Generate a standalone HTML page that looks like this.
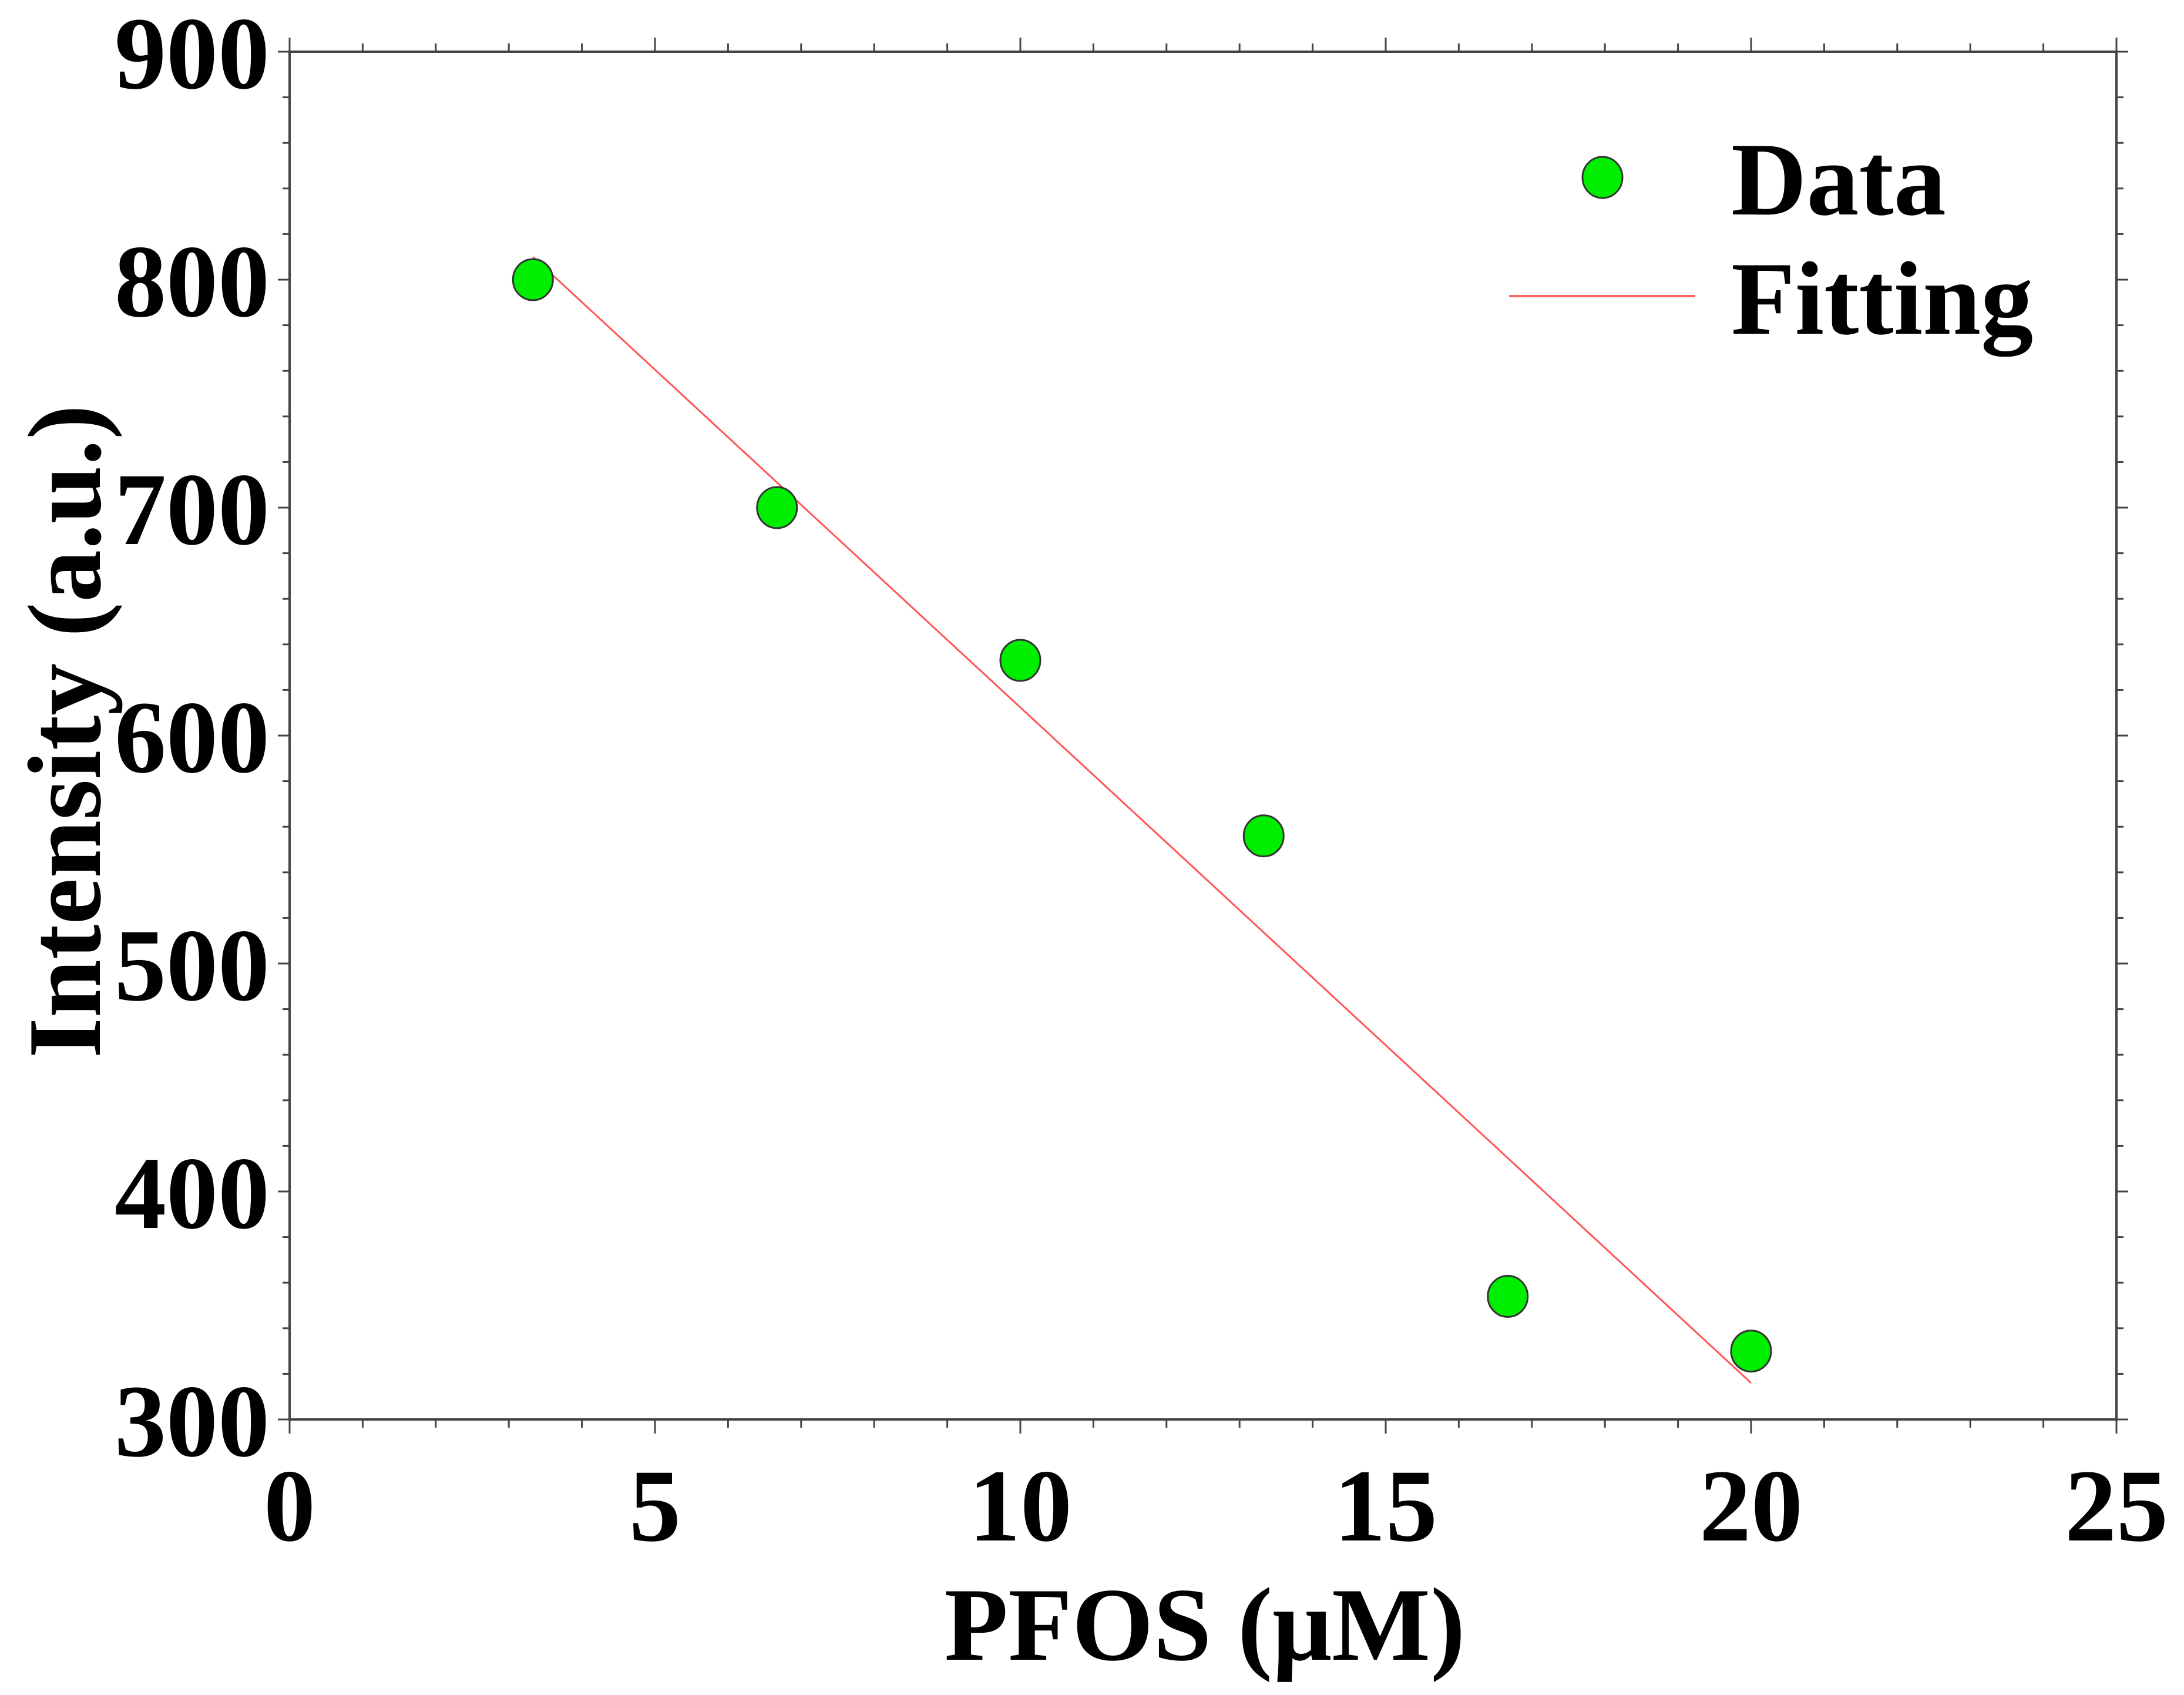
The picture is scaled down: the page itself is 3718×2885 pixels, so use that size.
<!DOCTYPE html>
<html><head><meta charset="utf-8"><style>
html,body{margin:0;padding:0;background:#fff;}
svg{display:block;font-family:"Liberation Serif",serif;font-weight:bold;}
</style></head><body>
<svg id="chart" width="3718" height="2885" viewBox="0 0 3718 2885" xmlns="http://www.w3.org/2000/svg">
<g id="axes"></g>
<g id="marks"></g>
<text x="2051" y="2825" font-size="178" text-anchor="middle">PFOS (μM)</text>
<text transform="translate(170,1245) rotate(-90)" font-size="178" text-anchor="middle">Intensity (a.u.)</text>
<g>
<ellipse cx="2728" cy="302" rx="34" ry="35" fill="#00ee00" stroke="#333" stroke-width="3"/>
<text x="2947" y="365" font-size="178">Data</text>
<line x1="2569" y1="504" x2="2886" y2="504" stroke="#ff6666" stroke-width="4"/>
<text x="2947" y="568" font-size="178">Fitting</text>
</g>
</svg>
<script>
const xData = [3.33, 6.67, 10, 13.33, 16.67, 20];
const yData = [800, 700, 633, 556, 354, 330];
const fitX = [3.33, 20];
const fitY = [810, 316];
const xTicks = [0, 5, 10, 15, 20, 25];
const yTicks = [300, 400, 500, 600, 700, 800, 900];

const L = 493, R = 3603, T = 88, B = 2416;
const xMin = 0, xMax = 25, yMin = 300, yMax = 900;
function sx(v){ return L + (v - xMin) / (xMax - xMin) * (R - L); }
function sy(v){ return B - (v - yMin) / (yMax - yMin) * (B - T); }
const NS = "http://www.w3.org/2000/svg";
function mk(parent, tag, attrs){
  const e = document.createElementNS(NS, tag);
  for (const k in attrs) e.setAttribute(k, attrs[k]);
  parent.appendChild(e);
  return e;
}
const axes = document.getElementById('axes');
const marks = document.getElementById('marks');

const frame = mk(axes, 'rect', {x:L, y:T, width:R-L, height:B-T, fill:'none', stroke:'#444', 'stroke-width':4});



// x ticks (every 1 unit), outward on bottom and top
for (let v = xMin; v <= xMax; v++) {
  const major = v % 5 === 0;
  const len = major ? 24 : 14;
  const x = sx(v);
  const tb = mk(axes, 'line', {x1:x, y1:B, x2:x, y2:B+len, stroke:'#444', 'stroke-width':3});
  
  
  const tt = mk(axes, 'line', {x1:x, y1:T, x2:x, y2:T-len, stroke:'#444', 'stroke-width':3});
  
  
}
// y ticks (every 20 units)
for (let v = yMin; v <= yMax; v += 20) {
  const major = v % 100 === 0;
  const len = major ? 20 : 12;
  const y = sy(v);
  const tl = mk(axes, 'line', {x1:L, y1:y, x2:L-len, y2:y, stroke:'#444', 'stroke-width':3});
  
  
  const tr = mk(axes, 'line', {x1:R, y1:y, x2:R+len, y2:y, stroke:'#444', 'stroke-width':3});
  
  
}
xTicks.forEach(v => {
  const t = mk(axes, 'text', {x:sx(v), y:2622, 'font-size':176, 'text-anchor':'middle'});
  
  
  t.textContent = String(v);
});
yTicks.forEach(v => {
  const t = mk(axes, 'text', {x:459, y:sy(v)+62, 'font-size':176, 'text-anchor':'end'});
  
  
  t.textContent = String(v);
});

const fit = mk(marks, 'line', {x1:sx(fitX[0]), y1:sy(fitY[0]), x2:sx(fitX[1]), y2:sy(fitY[1]), stroke:'#ff5555', 'stroke-width':3});



xData.forEach((xv, i) => {
  const c = mk(marks, 'ellipse', {cx:sx(xv), cy:sy(yData[i]), rx:34, ry:35, fill:'#00ee00', stroke:'#333', 'stroke-width':3});
  
  
});
</script>
</body></html>
